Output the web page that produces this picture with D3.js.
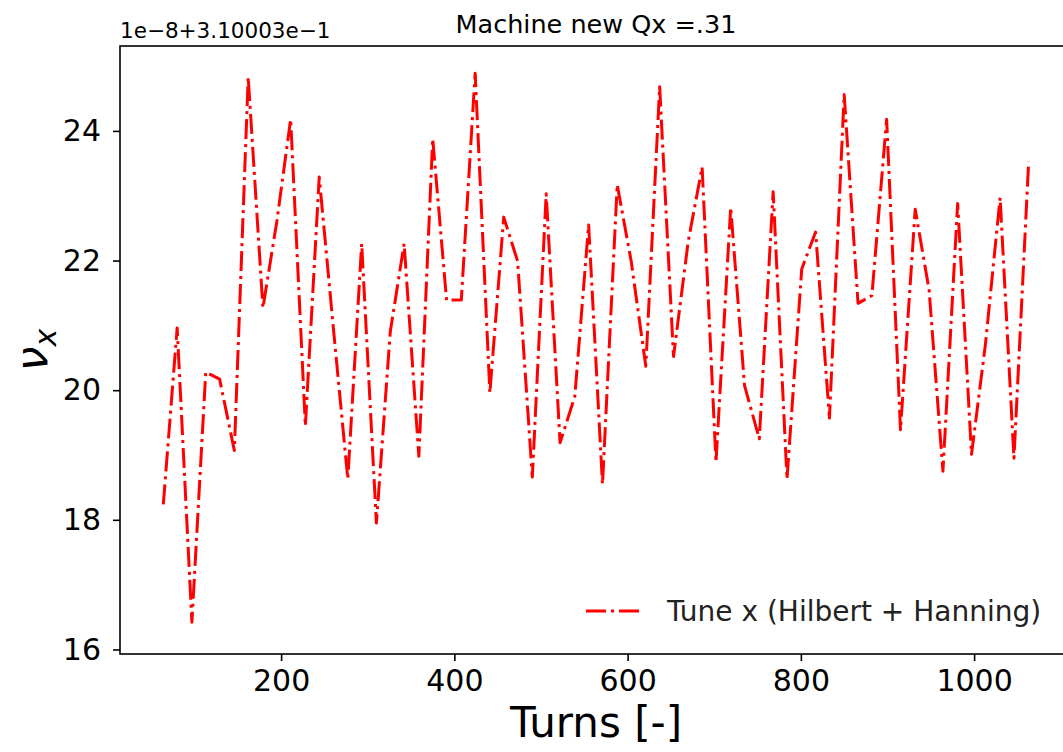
<!DOCTYPE html>
<html>
<head>
<meta charset="utf-8">
<script src="https://cdn.jsdelivr.net/npm/d3@7"></script>
<style>
  body { margin: 0; background: #fff; }
  svg { display: block; font-family: "DejaVu Sans", sans-serif; }
</style>
</head>
<body>
<div id="chart"></div>
<script>
// Turns (x) and tune offsets (y, in units of 1e-8 above 0.310003)
const turns = [64, 80, 97, 113, 129, 146, 162, 179, 195, 211, 228, 244, 260, 277, 293, 310,
  326, 342, 359, 375, 391, 408, 424, 441, 457, 473, 490, 506, 522, 539, 555, 571,
  588, 604, 621, 637, 653, 670, 686, 702, 719, 735, 752, 768, 784, 801, 817, 833,
  850, 866, 882, 899, 915, 932, 948, 964, 981, 997, 1013, 1030, 1046, 1063];
const tuneX = [18.24, 20.96, 16.42, 20.28, 20.17, 19.07, 24.83, 21.27, 22.6, 24.18, 19.45, 23.29,
  21.0, 18.63, 22.26, 17.95, 20.9, 22.26, 18.98, 23.88, 21.39, 21.39, 24.89, 19.96,
  22.67, 21.99, 18.66, 23.03, 19.19, 19.9, 22.55, 18.55, 23.17, 22.0, 20.37, 24.68,
  20.52, 22.3, 23.44, 18.89, 22.82, 20.07, 19.25, 23.06, 18.63, 21.87, 22.44, 19.57,
  24.56, 21.34, 21.46, 24.18, 19.39, 22.79, 21.55, 18.75, 22.88, 19.01, 20.7, 22.97,
  18.95, 23.53];
const xTicks = [200, 400, 600, 800, 1000];
const yTicks = [16, 18, 20, 22, 24];

const seriesName = "Tune x (Hilbert + Hanning)";
const titleText = "Machine new Qx =.31";
const offsetText = "1e\u22128+3.10003e\u22121";

const W = 1063, H = 752;
const plot = { left: 120, right: 1072, top: 46, bottom: 654 };

const svg = d3.select("#chart").append("svg")
  .attr("width", W).attr("height", H);

// Scales (matplotlib style 5% margins)
const x = d3.scaleLinear().domain([14, 1113]).range([plot.left, plot.right]);
const y = d3.scaleLinear().domain([15.93, 25.31]).range([plot.bottom, plot.top]);

// Line
const line = d3.line().x((d, i) => x(turns[i])).y(d => y(d));
svg.append("path")
  .datum(tuneX)
  .attr("d", line)
  .attr("fill", "none")
  .attr("stroke", "#ff0000")
  .attr("stroke-width", 3)
  .attr("stroke-dasharray", "20 5 3 5")
  .attr("stroke-linejoin", "round");

// Axes
const xAxis = svg.append("g")
  .attr("transform", `translate(0,${plot.bottom})`)
  .call(d3.axisBottom(x).tickValues(xTicks).tickSize(7).tickPadding(9).tickFormat(d3.format("d")));
const yAxis = svg.append("g")
  .attr("transform", `translate(${plot.left},0)`)
  .call(d3.axisLeft(y).tickValues(yTicks).tickSize(7).tickPadding(12).tickFormat(d3.format("d")));

[xAxis, yAxis].forEach(g => {
  g.select(".domain").remove();
  g.selectAll(".tick line").attr("stroke", "#000").attr("stroke-width", 1.6);
  g.selectAll(".tick text").attr("fill", "#000").style("font-size", "30px")
    .style("font-family", "DejaVu Sans");
});

// Spines
svg.append("rect")
  .attr("x", plot.left).attr("y", plot.top)
  .attr("width", plot.right - plot.left).attr("height", plot.bottom - plot.top)
  .attr("fill", "none").attr("stroke", "#000").attr("stroke-width", 1.6);

// Title and offset text
svg.append("text")
  .attr("x", (plot.left + plot.right) / 2).attr("y", 33)
  .attr("text-anchor", "middle")
  .style("font-size", "25.5px")
  .text(titleText);

svg.append("text")
  .attr("x", plot.left).attr("y", 38)
  .style("font-size", "21.5px")
  .text(offsetText);

// Axis labels
svg.append("text")
  .attr("x", (plot.left + plot.right) / 2).attr("y", 737)
  .attr("text-anchor", "middle")
  .style("font-size", "42px")
  .text("Turns [-]");

const yl = svg.append("text")
  .attr("transform", `translate(47,${(plot.top + plot.bottom) / 2}) rotate(-90)`)
  .attr("text-anchor", "middle")
  .style("font-size", "44px");
yl.append("tspan").style("font-style", "italic").text("\u03bd");
yl.append("tspan").attr("dy", 9).style("font-size", "30px").style("font-style", "italic").text("x");

// Legend
const legend = svg.append("g").attr("transform", "translate(586,611)");
legend.append("line")
  .attr("x1", 0).attr("x2", 55)
  .attr("stroke", "#ff0000").attr("stroke-width", 3)
  .attr("stroke-dasharray", "20 5 3 5");
legend.append("text")
  .attr("x", 81).attr("y", 10)
  .style("font-size", "28px")
  .attr("fill", "#222")
  .text(seriesName);
</script>
</body>
</html>
